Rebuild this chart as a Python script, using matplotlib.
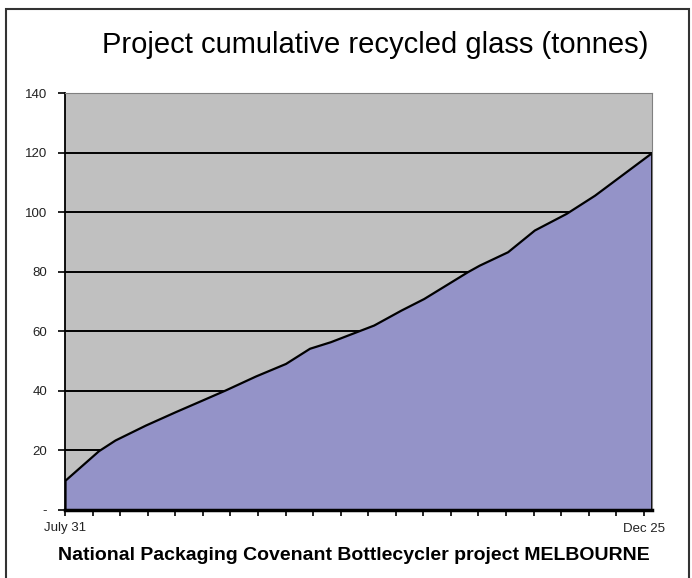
import matplotlib.pyplot as plt
from matplotlib.patches import Rectangle

plt.rcParams['font.family'] = ['Liberation Sans', 'DejaVu Sans']

# days since July 31
days = [0, 8.5, 12.7, 20.4, 28, 34.8, 40.7, 48.4, 56, 62.1, 67.4, 72.5,
        78.4, 85.3, 91.1, 102.2, 105.2, 112.4, 119.2, 127.3, 134.5, 149]
tonnes = [10, 19.9, 23.5, 28.5, 33, 36.9, 40.3, 45, 49.2, 54.3, 56.5, 59.1,
          62.1, 67.1, 71.0, 80, 82.2, 86.7, 94, 99.6, 105.7, 120]

week_ticks = list(range(0, 148, 7))
x_labels = ['July 31'] + [''] * 20 + ['Dec 25']
y_ticks = [0, 20, 40, 60, 80, 100, 120, 140]
y_labels = ['-', '20', '40', '60', '80', '100', '120', '140']

fig = plt.figure(figsize=(6.92, 5.78), dpi=100)
fig.patches.append(Rectangle((6 / 692, -0.1), (689 - 6) / 692, 1.1 - 9 / 578,
                             transform=fig.transFigure, fill=False,
                             edgecolor='#333333', lw=1.5))

ax = fig.add_axes([65 / 692, 1 - 510 / 578, (651.7 - 65) / 692, (510 - 93) / 578])
ax.set_facecolor('#C0C0C0')

for v in y_ticks[1:-1]:
    ax.axhline(v, color='black', lw=1.4, zorder=1)

ax.fill_between(days, tonnes, 0, facecolor='#9493C8', edgecolor='black',
                lw=1.6, zorder=2)

ax.set_xlim(0, 149)
ax.set_ylim(0, 140)
ax.set_xticks(week_ticks)
ax.set_xticklabels(x_labels, fontsize=9.5, color='#222222')
ax.set_yticks(y_ticks)
ax.set_yticklabels(y_labels, fontsize=9.5, color='#222222')
ax.tick_params(axis='y', length=5, width=1.2, pad=8)
ax.tick_params(axis='x', length=4, width=1.2, pad=5)

ax.spines['bottom'].set_linewidth(2.5)
ax.spines['left'].set_linewidth(1.3)
ax.spines['top'].set_color('#808080')
ax.spines['right'].set_color('#808080')

fig.text(375 / 692, 1 - 45 / 578, 'Project cumulative recycled glass (tonnes)',
         ha='center', va='center', fontsize=21)
fig.text(354 / 692, 1 - 555 / 578,
         'National Packaging Covenant Bottlecycler project MELBOURNE',
         ha='center', va='center', fontsize=14, fontweight='bold')

fig.savefig('out.png', dpi=100)
